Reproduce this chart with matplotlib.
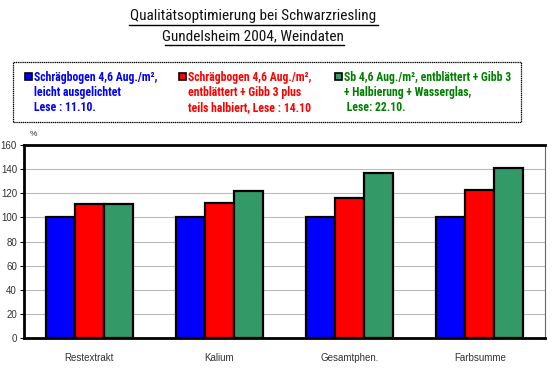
import matplotlib
matplotlib.use("Agg")
import matplotlib.pyplot as plt
from matplotlib.patches import Rectangle
import numpy as np

categories = ["Restextrakt", "Kalium", "Gesamtphen.", "Farbsumme"]
series_blue = [100, 100, 100, 100]
series_red = [111, 112, 116, 123]
series_green = [111, 122, 137, 141]
yticks = [0, 20, 40, 60, 80, 100, 120, 140, 160]
legend_labels = [
    ["Schrägbogen 4,6 Aug./m²,", "leicht ausgelichtet", "Lese : 11.10."],
    ["Schrägbogen 4,6 Aug./m²,", "entblättert + Gibb 3 plus", "teils halbiert, Lese : 14.10"],
    ["Sb 4,6 Aug./m², entblättert + Gibb 3", "+ Halbierung + Wasserglas,", " Lese: 22.10."],
]
title_lines = ["Qualitätsoptimierung bei Schwarzriesling", "Gundelsheim 2004, Weindaten"]

narrow = ["Roboto Condensed", "Archivo Narrow", "DejaVu Sans"]
plain = ["Liberation Sans", "DejaVu Sans"]
plt.rcParams['font.family'] = narrow

W, H = 556, 371
fig = plt.figure(figsize=(W/100, H/100), dpi=100)

# axes: x 24..545, y 145..338
ax = fig.add_axes([24/W, 1-338/H, (545-24)/W, (338-145)/H])
x = np.arange(len(categories))
bw = 0.223
fills = ["#0000FF", "#FF0000", "#339966"]
for i, (vals, c) in enumerate(zip([series_blue, series_red, series_green], fills)):
    ax.bar(x + (i-1)*bw, vals, bw, color=c, edgecolor="black", linewidth=1.6, zorder=3)
ax.set_xlim(-0.5, 3.5)
ax.set_ylim(0, 160)
ax.set_yticks(yticks)
ax.set_yticklabels([str(v) for v in yticks], fontsize=7, color="#333333", family=plain)
ax.set_xticks(x)
ax.set_xticklabels(categories, fontsize=7, color="#333333", family=plain)
ax.tick_params(axis='x', length=0, pad=11)
ax.tick_params(axis='y', length=3, width=0.8, pad=2, direction='out')
ax.yaxis.grid(True, color="#bbbbbb", linewidth=0.8, zorder=0)
for s in ["top", "left", "bottom"]:
    ax.spines[s].set_linewidth(2)
ax.spines["right"].set_linewidth(0.8)
ax.spines["right"].set_color("#666666")
fig.text(33/W, 1-134/H, "%", fontsize=6, color="#333333", ha="center", va="center", family=plain)

# Title
for t, yy in zip(title_lines, [16, 36]):
    fig.text(253/W, 1-yy/H, t, fontsize=11, ha="center", va="center", color="#111111")
fig.add_artist(plt.Line2D([129/W, 378/W], [1-25/H, 1-25/H], color="black", lw=1))
fig.add_artist(plt.Line2D([165/W, 344/W], [1-45/H, 1-45/H], color="black", lw=1))

# Legend box
fig.add_artist(Rectangle((13/W, 1-122/H), (521-13)/W, (122-62)/H, transform=fig.transFigure,
                         fill=False, edgecolor="black", lw=0.9, linestyle=(0, (1, 0.5))))
mx = [25, 179, 335]
tx = [34, 188, 344]
tcolors = ["#0000FF", "#FF0000", "#008000"]
mcol = ["#0000FF", "#FF0000", "#339966"]
baselines = [81, 96, 111]
for i in range(3):
    fig.add_artist(Rectangle((mx[i]/W, 1-80/H), 7/W, 7/H, transform=fig.transFigure,
                             facecolor=mcol[i], edgecolor="black", lw=1.2))
    for k, line in enumerate(legend_labels[i]):
        fig.text(tx[i]/W, 1-baselines[k]/H, line, fontsize=8.5, fontweight="bold",
                 color=tcolors[i], ha="left", va="baseline")

fig.savefig("out.png", dpi=100)
